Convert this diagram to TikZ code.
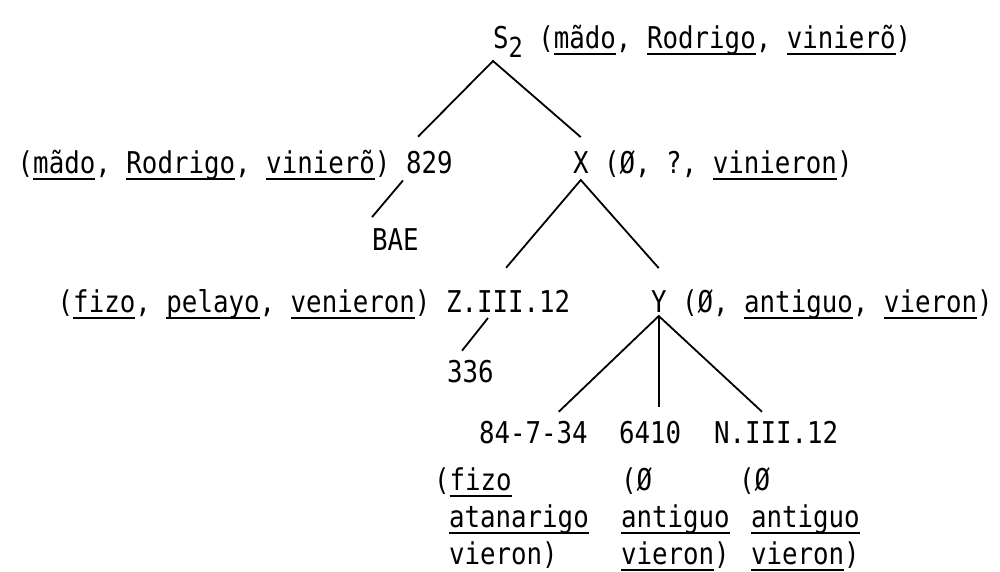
\documentclass[tikz,border=0pt]{standalone}
\usepackage{xcolor}
\usepackage{fontspec}
\setmonofont[FakeStretch=0.86]{DejaVu Sans Mono}
\usepackage{tikz}
\usetikzlibrary{positioning}

% underlined reading, rule set at a fixed depth
\newcommand\undl[1]{\setbox0\hbox{#1}\rlap{\rule[-7pt]{\wd0}{1.6pt}}\box0}

\begin{document}
\begin{tikzpicture}[x=1pt, y=-1pt,
    every node/.style = {inner sep=0pt, outer sep=0pt,
                         font=\ttfamily\fontsize{30}{36}\selectfont},
    sigl/.style = {anchor=base west},
    rdg/.style  = {},
    branch/.style = {line width=1.8pt}]
  \useasboundingbox (0,0) rectangle (1000,571);

  % archetype
  \node[sigl] (s2) at (493,48) {S\raisebox{-9pt}{\scalebox{.92}{2}}};
  \node[rdg, base right=15.5pt of s2] (rs2) {(\undl{mãdo}, \undl{Rodrigo}, \undl{vinierõ})};

  % first split
  \node[sigl] (c829) at (406,173) {829};
  \node[rdg, base left=15.5pt of c829] (r829) {(\undl{mãdo}, \undl{Rodrigo}, \undl{vinierõ})};
  \node[sigl] (x) at (573,173) {X};
  \node[rdg, base right=15.5pt of x] (rx) {(Ø, ?, \undl{vinieron})};
  \node[sigl] (bae) at (372,250) {BAE};

  % second split
  \node[sigl] (z) at (446,312) {Z.III.12};
  \node[rdg, base left=15.5pt of z] (rz) {(\undl{fizo}, \undl{pelayo}, \undl{venieron})};
  \node[sigl] (y) at (651,312) {Y};
  \node[rdg, base right=15.5pt of y] (ry) {(Ø, \undl{antiguo}, \undl{vieron})};
  \node[sigl] (c336) at (447,382) {336};

  % witnesses of Y
  \node[sigl] (c8473) at (479,443) {84-7-34};
  \node[sigl] (c6410) at (619,443) {6410};
  \node[sigl] (n312)  at (714,443) {N.III.12};

  \node[sigl] (w8473a) at (434,490) {(\undl{fizo}};
  \node[sigl] (w8473b) at (449,527) {\undl{atanarigo}};
  \node[sigl] (w8473c) at (449,564) {vieron)};
  \node[sigl] (w6410a) at (621,490) {(Ø};
  \node[sigl] (w6410b) at (621,527) {\undl{antiguo}};
  \node[sigl] (w6410c) at (621,564) {\undl{vieron})};
  \node[sigl] (wn312a) at (739,490) {(Ø};
  \node[sigl] (wn312b) at (751,527) {\undl{antiguo}};
  \node[sigl] (wn312c) at (751,564) {\undl{vieron})};

  % branches
  \draw[branch] ([xshift=12pt,yshift=14pt]c829.north west)
             -- ([yshift=-4pt]s2.south west)
             -- ([yshift=14pt]x.north);
  \draw[branch] ([xshift=-3pt,yshift=-7pt]c829.south west)
             -- ([yshift=11pt]bae.north west);
  \draw[branch] ([xshift=-2pt,yshift=22pt]z.north)
             -- ([yshift=-7pt]x.south)
             -- ([yshift=22pt]y.north);
  \draw[branch] ([xshift=42pt,yshift=-6pt]z.south west)
             -- ([xshift=15pt,yshift=9pt]c336.north west);
  \draw[branch] ([xshift=-29pt,yshift=9pt]c8473.north east)
             -- ([yshift=-4pt]y.south)
             -- ([xshift=48pt,yshift=9pt]n312.north west);
  \draw[branch] ([yshift=-4pt]y.south)
             -- ([yshift=14pt]y.south |- c6410.north);
\end{tikzpicture}
\end{document}
